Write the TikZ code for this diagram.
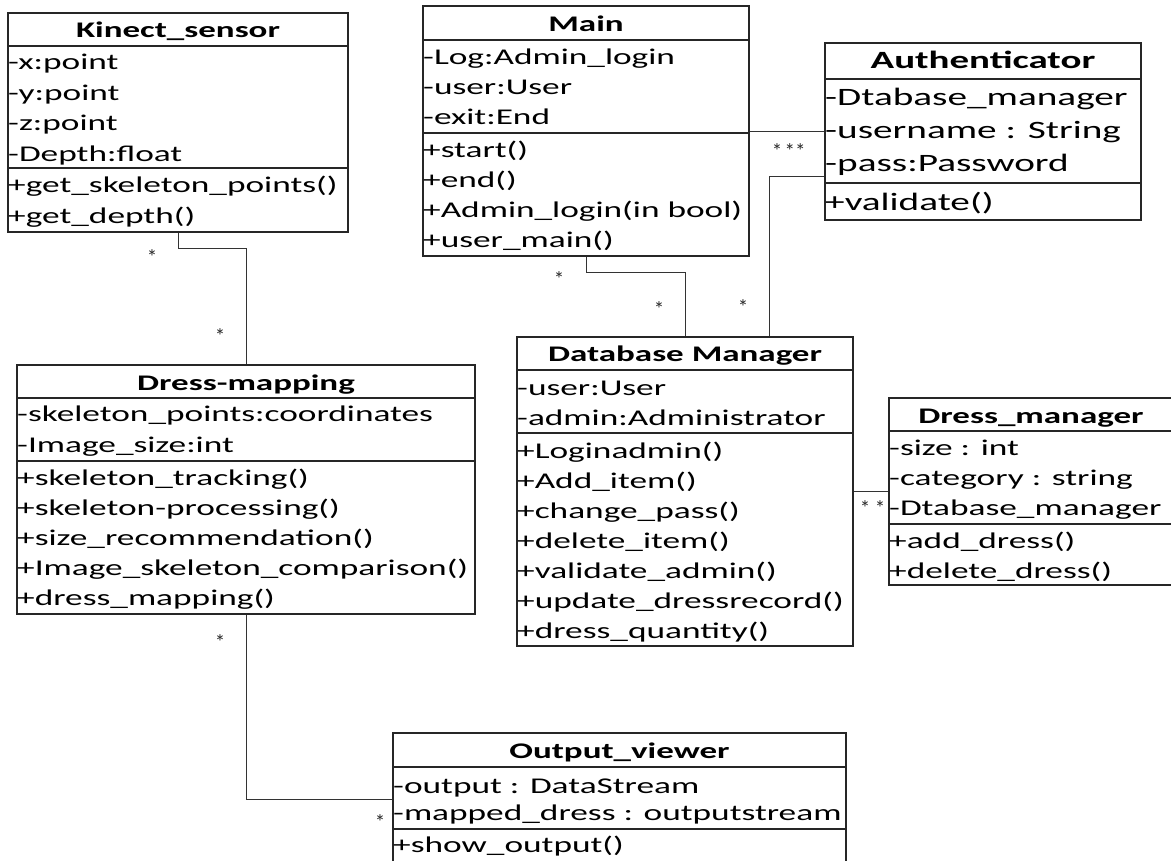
\documentclass[tikz,border=0pt]{standalone}
\usepackage{fontspec}
\setmainfont{Carlito}[FakeStretch=1.57]
\newfontfamily\multfont{Carlito}
\begin{document}
\begin{tikzpicture}[x=1pt,y=-1pt,
  classbox/.style={draw=black!85, line width=1.3pt, rectangle, inner sep=0pt},
  divider/.style={draw=black!85, line width=1.1pt},
  member/.style={anchor=base west, inner sep=0pt, font=\fontsize{22.5}{26}\selectfont},
  bigmember/.style={member, font=\fontsize{25}{29}\selectfont},
  classtitle/.style={anchor=base, inner sep=0pt, font=\fontsize{22.3}{26}\selectfont\bfseries},
  bigtitle/.style={classtitle, font=\fontsize{24.8}{29}\selectfont\bfseries},
  assoc/.style={draw=black!80, line width=0.9pt},
  mult/.style={inner sep=0pt, text=black!85, font=\multfont\fontsize{21}{22}\selectfont}]

\fill[white] (0,0) rectangle (1171,861);
\useasboundingbox (0,0) rectangle (1171,861);

% ---------- Kinect_sensor ----------
\node[classbox, minimum width=340pt, minimum height=219pt] (kin) at (178,122.5) {};
\node[classtitle] (kin-t) at (178,38) {Kinect\_sensor};
\draw[divider] (kin.west |- 0,46) -- (kin.east |- 0,46);
\draw[divider] (kin.west |- 0,168) -- (kin.east |- 0,168);
\foreach \txt [count=\i from 0] in {-x:point, -y:point, -z:point, -Depth:float}
  \node[member] (kin-a\i) at (8,{70+30.5*\i}) {\txt};
\foreach \txt [count=\i from 0] in {+get\_skeleton\_points(), +get\_depth()}
  \node[member] (kin-m\i) at (8,{193+30.5*\i}) {\txt};

% ---------- Main ----------
\node[classbox, minimum width=326pt, minimum height=250pt] (main) at (586,131) {};
\node[classtitle] (main-t) at (586,32) {Main};
\draw[divider] (main.west |- 0,40) -- (main.east |- 0,40);
\draw[divider] (main.west |- 0,133) -- (main.east |- 0,133);
\foreach \txt [count=\i from 0] in {-Log:Admin\_login, -user:User, -exit:End}
  \node[member] (main-a\i) at (423,{65+30*\i}) {\txt};
\foreach \txt [count=\i from 0] in {+start(), +end(), +Admin\_login(in bool), +user\_main()}
  \node[member] (main-m\i) at (423,{158+30*\i}) {\txt};

% ---------- Authenticator ----------
\node[classbox, minimum width=316pt, minimum height=177pt] (auth) at (983,131.5) {};
\node[bigtitle] (auth-t) at (983,69) {Authenticator};
\draw[divider] (auth.west |- 0,79) -- (auth.east |- 0,79);
\draw[divider] (auth.west |- 0,183) -- (auth.east |- 0,183);
\foreach \txt [count=\i from 0] in {-Dtabase\_manager, -username : String, -pass:Password}
  \node[bigmember] (auth-a\i) at (825,{106+33*\i}) {\txt};
\node[bigmember] (auth-m0) at (825,211) {+validate()};

% ---------- Dress-mapping ----------
\node[classbox, minimum width=458pt, minimum height=249pt] (dmap) at (246,489.5) {};
\node[classtitle] (dmap-t) at (246,390) {Dress-mapping};
\draw[divider] (dmap.west |- 0,398) -- (dmap.east |- 0,398);
\draw[divider] (dmap.west |- 0,461) -- (dmap.east |- 0,461);
\foreach \txt [count=\i from 0] in {-skeleton\_points:coordinates, -Image\_size:int}
  \node[member] (dmap-a\i) at (17,{421+31*\i}) {\txt};
\foreach \txt [count=\i from 0] in {+skeleton\_tracking(), +skeleton-processing(),
    +size\_recommendation(), +Image\_skeleton\_comparison(), +dress\_mapping()}
  \node[member] (dmap-m\i) at (17,{485+30*\i}) {\txt};

% ---------- Database Manager ----------
\node[classbox, minimum width=336pt, minimum height=309pt] (db) at (685,491.5) {};
\node[classtitle] (db-t) at (685,362) {Database Manager};
\draw[divider] (db.west |- 0,370) -- (db.east |- 0,370);
\draw[divider] (db.west |- 0,433) -- (db.east |- 0,433);
\foreach \txt [count=\i from 0] in {-user:User, -admin:Administrator}
  \node[member] (db-a\i) at (517,{395+30*\i}) {\txt};
\foreach \txt [count=\i from 0] in {+Loginadmin(), +Add\_item(), +change\_pass(), +delete\_item(),
    +validate\_admin(), +update\_dressrecord(), +dress\_quantity()}
  \node[member] (db-m\i) at (517,{458+30*\i}) {\txt};

% ---------- Dress_manager ----------
\node[classbox, minimum width=284pt, minimum height=187pt] (dm) at (1031,491.5) {};
\node[classtitle] (dm-t) at (1031,423) {Dress\_manager};
\draw[divider] (dm.west |- 0,431) -- (dm.east |- 0,431);
\draw[divider] (dm.west |- 0,524) -- (dm.east |- 0,524);
\foreach \txt [count=\i from 0] in {-size : int, -category : string, -Dtabase\_manager}
  \node[member] (dm-a\i) at (889,{455+30*\i}) {\txt};
\foreach \txt [count=\i from 0] in {+add\_dress(), +delete\_dress()}
  \node[member] (dm-m\i) at (889,{548+30*\i}) {\txt};

% ---------- Output_viewer ----------
\node[classbox, minimum width=453pt, minimum height=132pt] (ov) at (619.5,799) {};
\node[classtitle] (ov-t) at (619.5,758) {Output\_viewer};
\draw[divider] (ov.west |- 0,767) -- (ov.east |- 0,767);
\draw[divider] (ov.west |- 0,829) -- (ov.east |- 0,829);
\foreach \txt [count=\i from 0] in {-output : DataStream, -mapped\_dress : outputstream}
  \node[member] (ov-a\i) at (393,{793+27*\i}) {\txt};
\node[member] (ov-m0) at (393,852) {+show\_output()};

% ---------- associations ----------
\draw[assoc] (kin.south) -- ++(0,16) -| (dmap.north);
\draw[assoc] (main.south) -- ++(0,16) -| (db.north);
\draw[assoc] (main.east) -- (main.east -| auth.west);
\draw[assoc] ([yshift=-44.5pt]auth.west) -| ([xshift=84pt]db.north);
\draw[assoc] (db.east) -- (db.east -| dm.west);
\draw[assoc] (dmap.south) |- (ov.west);

% ---------- multiplicities ----------
\node[mult] (m1) at (152,257) {*};
\node[mult] (m2) at (220,336) {*};
\node[mult] (m3) at (559,279) {*};
\node[mult] (m4) at (659,309) {*};
\node[mult] (m5) at (743,307) {*};
\node[mult] (m6) at (777,151) {*};
\node[mult] (m7) at (795,151) {**};
\node[mult] (m8) at (865,508) {*};
\node[mult] (m9) at (880,508) {*};
\node[mult] (m10) at (220,642) {*};
\node[mult] (m11) at (380,822) {*};
\end{tikzpicture}
\end{document}
